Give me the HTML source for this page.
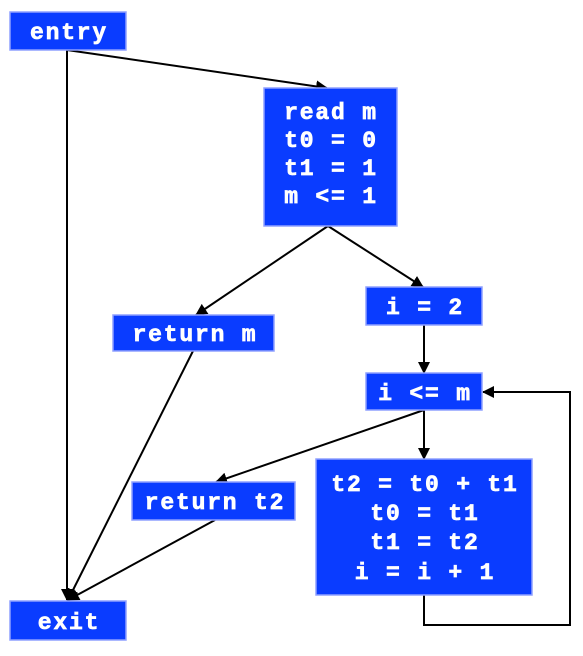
<!DOCTYPE html>
<html><head><style>
body{margin:0;background:#fff;width:583px;height:651px;overflow:hidden}
svg text{font-family:"Liberation Mono",monospace;font-weight:bold;font-size:23px;letter-spacing:1.8px;fill:#fff;stroke:#fff;stroke-width:0.7;text-anchor:middle}
rect{fill:#0a3cff;stroke:#8fa0ff;stroke-width:1.5}
line,polyline{stroke:#000;stroke-width:2;fill:none}
</style></head><body>
<svg width="583" height="651" xmlns="http://www.w3.org/2000/svg">
<defs><marker id="a" markerWidth="12" markerHeight="12" refX="11" refY="6" orient="auto" markerUnits="userSpaceOnUse"><path d="M0,0 L12,6 L0,12 z" fill="#000"/></marker></defs>
<line x1="67" y1="50" x2="67" y2="600" marker-end="url(#a)"/>
<line x1="67" y1="50" x2="327" y2="88" marker-end="url(#a)"/>
<line x1="328" y1="226" x2="196" y2="315" marker-end="url(#a)"/>
<line x1="328" y1="226" x2="423" y2="287" marker-end="url(#a)"/>
<line x1="424" y1="325" x2="424" y2="373" marker-end="url(#a)"/>
<line x1="424" y1="410" x2="424" y2="459" marker-end="url(#a)"/>
<line x1="424" y1="410" x2="216" y2="482" marker-end="url(#a)"/>
<line x1="193" y1="351" x2="68" y2="600" marker-end="url(#a)"/>
<line x1="215" y1="520" x2="68" y2="600" marker-end="url(#a)"/>
<polyline points="424,595 424,625 570,625 570,392 483,392" marker-end="url(#a)"/>
<rect x="10" y="12" width="116" height="38"/><text x="69" y="39">entry</text>
<rect x="264" y="88" width="133" height="138"/>
<text x="331" y="119">read m</text><text x="331" y="147">t0 = 0</text><text x="331" y="175">t1 = 1</text><text x="331" y="203">m &lt;= 1</text>
<rect x="113" y="315" width="161" height="36"/><text x="195" y="341">return m</text>
<rect x="366" y="287" width="116" height="38"/><text x="425" y="314">i = 2</text>
<rect x="366" y="373" width="116" height="37"/><text x="425" y="400">i &lt;= m</text>
<rect x="316" y="459" width="216" height="136"/>
<text x="425" y="491">t2 = t0 + t1</text><text x="425" y="520">t0 = t1</text><text x="425" y="549">t1 = t2</text><text x="425" y="579">i = i + 1</text>
<rect x="132" y="482" width="163" height="38"/><text x="215" y="509">return t2</text>
<rect x="10" y="601" width="116" height="39"/><text x="69" y="629">exit</text>
</svg>
</body></html>
